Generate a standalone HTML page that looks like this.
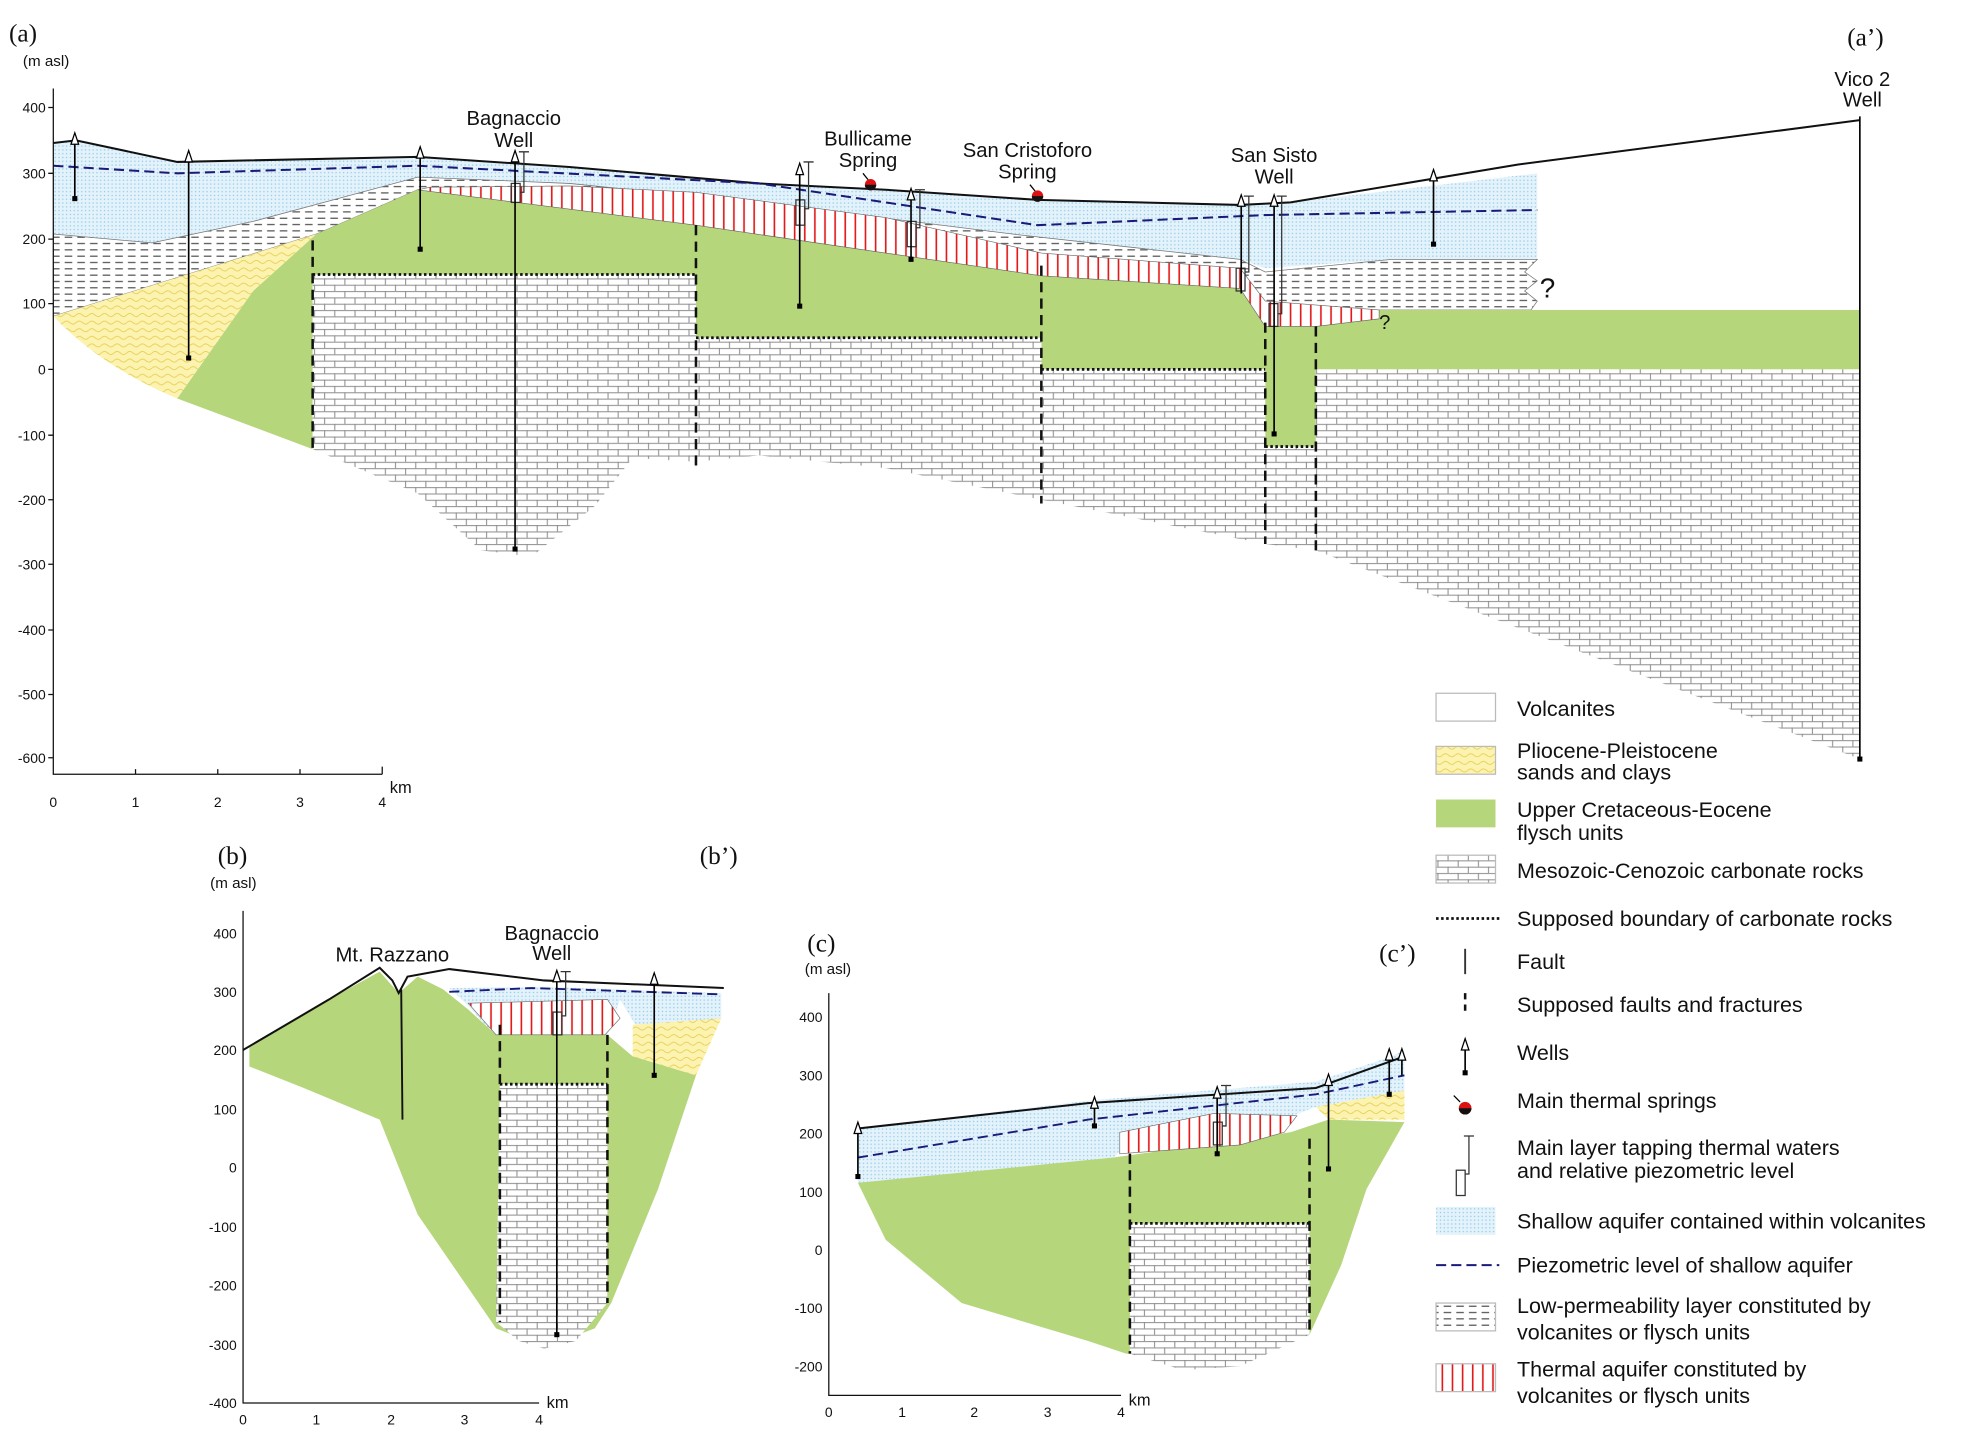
<!DOCTYPE html>
<html><head><meta charset="utf-8">
<style>
html,body{margin:0;padding:0;background:#fff;}
svg{display:block;}
text{font-family:"Liberation Sans",sans-serif;fill:#111;}
.ser{font-family:"Liberation Serif",serif;}
.ax{font-size:11px;}
</style></head>
<body>
<svg width="1984" height="1446" viewBox="0 0 1568 1143" xmlns="http://www.w3.org/2000/svg">
<defs>
<pattern id="brick" width="16" height="10" patternUnits="userSpaceOnUse">
<rect width="16" height="10" fill="#fff"/>
<path d="M0 0.5H16M0 5.5H16M0.5 0V5M8.5 5V10" stroke="#8a8a8a" stroke-width="0.8" fill="none"/>
</pattern>
<pattern id="dash" width="10" height="5" patternUnits="userSpaceOnUse">
<rect width="10" height="5" fill="#fff"/>
<path d="M1 2.5H7" stroke="#444" stroke-width="0.9"/>
</pattern>
<pattern id="dots" width="3" height="3" patternUnits="userSpaceOnUse">
<rect width="3" height="3" fill="#e4f3fb"/>
<rect x="1" y="1" width="1" height="1" fill="#8fc9e6"/>
</pattern>
<pattern id="red" width="8" height="10" patternUnits="userSpaceOnUse">
<rect width="8" height="10" fill="#fff"/>
<path d="M4 0V10" stroke="#e21a1a" stroke-width="1.3"/>
</pattern>
<pattern id="yel" width="10" height="6" patternUnits="userSpaceOnUse">
<rect width="10" height="6" fill="#fdf3b0"/>
<path d="M0 3 Q2.5 0.5 5 3 T10 3" stroke="#e8cf55" stroke-width="0.7" fill="none"/>
</pattern>
</defs>

<!-- ============ SECTION A ============ -->
<text x="7" y="33" class="ser" font-size="20">(a)</text>
<text x="1460" y="36" class="ser" font-size="20">(a’)</text>
<text x="18" y="52" font-size="12">(m  asl)</text>

<path d="M42,113 L60,111 L140,128 L330,124 L450,132 L600,145 L700,150 L820,158 L980,162 L1020,160 L1215,137 L1215,205 L1100,205 L1000,212 L980,205 L800,185 L600,160 L450,145 L330,140 L200,175 L120,192 L42,185Z" fill="url(#dots)"/>
<path d="M42,185 L120,192 L200,175 L330,140 L450,145 L600,160 L800,185 L980,205 L1000,215 L1100,205 L1215,205 L1205,215 L1215,222 L1205,230 L1215,238 L1210,245 L1090,245 L1040,245 L1000,240 L980,228 L823,218 L700,200 L550,178 L330,150 L250,185 L42,250Z" fill="url(#dash)" stroke="#777" stroke-width="0.6"/>
<path d="M42,250 L250,185 L200,230 L140,315 Q80,290 42,250Z" fill="url(#yel)"/>
<path d="M140,315 L200,230 L250,185 L330,150 L550,178 L700,200 L823,218 L980,228 L1000,255 L1040,258 L1090,252 L1090,245 L1470,245 L1470,292 L1040,292 L1040,353 L1000,353 L1000,292 L823,292 L823,267 L550,267 L550,217 L247,217 L247,355Z" fill="#b5d67a"/>
<path d="M340,148 L450,147 L550,152 L700,172 L823,200 L980,212 L1000,238 L1090,245 L1090,252 L1040,258 L1000,258 L980,228 L823,218 L700,200 L550,178 L330,150Z" fill="url(#red)" stroke="#666" stroke-width="0.5"/>
<path d="M247,217 L550,217 L550,365 L500,362 L470,400 L420,440 L380,435 L330,390 L247,355Z" fill="url(#brick)"/>
<path d="M550,267 L823,267 L823,395 L700,370 L600,360 L550,365Z" fill="url(#brick)"/>
<path d="M823,292 L1000,292 L1000,430 L823,395Z" fill="url(#brick)"/>
<path d="M1000,353 L1040,353 L1040,435 L1000,430Z" fill="url(#brick)"/>
<path d="M1040,292 L1470,292 L1470,600 L1040,435Z" fill="url(#brick)"/>
<g stroke="#111" stroke-width="2.2" stroke-dasharray="2,2" fill="none">
<path d="M247,217H550M550,267H823M823,292H1000M1000,353H1040"/>
</g>
<g stroke="#111" stroke-width="2" stroke-dasharray="8,5" fill="none">
<path d="M247,190V355M550,178V370M823,210V398M1000,255V430M1040,258V435"/>
</g>
<path d="M42,113 L60,111 L140,128 L330,124 L450,132 L600,145 L700,150 L820,158 L980,162 L1020,160 L1200,130 L1470,95" fill="none" stroke="#111" stroke-width="1.6"/>
<path d="M42,131 L140,137 L330,131 L600,145 L820,178 L1000,170 L1215,166" fill="none" stroke="#1a1a7a" stroke-width="1.6" stroke-dasharray="8,4"/>

<circle cx="688" cy="146" r="4.5" fill="#d11"/><path d="M683.5,146a4.5,4.5 0 0 0 9,0" fill="#111"/><path d="M682,137l4,5" stroke="#000"/>
<circle cx="820" cy="155" r="4.5" fill="#d11"/><path d="M815.5,155a4.5,4.5 0 0 0 9,0" fill="#111"/><path d="M814,146l4,5" stroke="#000"/>
<text x="1217" y="235" font-size="22">?</text><text x="1090" y="260" font-size="16">?</text>
<g font-size="16" text-anchor="middle">
<text x="406" y="99">Bagnaccio</text><text x="406" y="116">Well</text>
<text x="686" y="115">Bullicame</text><text x="686" y="132">Spring</text>
<text x="812" y="124">San Cristoforo</text><text x="812" y="141">Spring</text>
<text x="1007" y="128">San Sisto</text><text x="1007" y="145">Well</text>
<text x="1472" y="68">Vico 2</text><text x="1472" y="84">Well</text>
</g>
<path d="M42,70V612H302" stroke="#111" fill="none"/>
<g class="ax" text-anchor="end">
<text x="36" y="89">400</text><text x="36" y="141">300</text><text x="36" y="193">200</text><text x="36" y="244">100</text><text x="36" y="296">0</text><text x="36" y="348">-100</text><text x="36" y="399">-200</text><text x="36" y="450">-300</text><text x="36" y="502">-400</text><text x="36" y="553">-500</text><text x="36" y="603">-600</text>
</g>
<g stroke="#111"><path d="M42,85h-4M42,137h-4M42,189h-4M42,240h-4M42,292h-4M42,344h-4M42,395h-4M42,446h-4M42,498h-4M42,549h-4M42,599h-4M107,612v-4M172,612v-4M237,612v-4M302,612v-6"/></g>
<g class="ax" text-anchor="middle"><text x="42" y="638">0</text><text x="107" y="638">1</text><text x="172" y="638">2</text><text x="237" y="638">3</text><text x="302" y="638">4</text></g>
<text x="308" y="627" font-size="13">km</text>

<!-- ============ SECTION B ============ -->
<text x="172" y="683" class="ser" font-size="20">(b)</text>
<text x="553" y="683" class="ser" font-size="20">(b’)</text>
<text x="166" y="702" font-size="12">(m  asl)</text>
<path d="M355,781 L430,780 L570,785 L570,805 L520,840 L490,790 L480,818 L390,818 L370,795Z" fill="url(#dots)"/>
<path d="M500,810 L570,805 L550,850 L500,835Z" fill="url(#yel)"/>
<path d="M197,828 L260,790 L300,768 L315,785 L330,772 L350,782 L370,798 L392,818 L480,818 L500,835 L550,850 L520,940 L483,1030 L470,1050 L430,1065 L392,1050 L330,960 L300,885 L240,860 L197,843Z" fill="#b5d67a"/>
<path d="M370,793 L480,790 L490,805 L478,818 L392,818Z" fill="url(#red)" stroke="#666" stroke-width="0.5"/>
<path d="M395,857 L480,857 L480,1030 L455,1060 L430,1066 L410,1060 L392,1045Z" fill="url(#brick)"/>
<path d="M395,857H480" stroke="#111" stroke-width="2.2" stroke-dasharray="2,2"/>
<g stroke="#111" stroke-width="2" stroke-dasharray="8,5"><path d="M395,810V1045M480,818V1030"/></g>
<path d="M317,782 L318,885" stroke="#111" stroke-width="1.5"/>
<path d="M192,830 L260,790 L300,765 L310,775 L315,785 L322,772 L355,766 L430,775 L572,781" fill="none" stroke="#111" stroke-width="1.6"/>
<path d="M355,784 L420,781 L570,786" fill="none" stroke="#1a1a7a" stroke-width="1.5" stroke-dasharray="8,4"/>
<g font-size="16" text-anchor="middle"><text x="436" y="743">Bagnaccio</text><text x="436" y="759">Well</text><text x="310" y="760">Mt. Razzano</text></g>
<path d="M192,720V1109H426" stroke="#111" fill="none"/>
<g class="ax" text-anchor="end"><text x="187" y="742">400</text><text x="187" y="788">300</text><text x="187" y="834">200</text><text x="187" y="881">100</text><text x="187" y="927">0</text><text x="187" y="974">-100</text><text x="187" y="1020">-200</text><text x="187" y="1067">-300</text><text x="187" y="1113">-400</text></g>
<g class="ax" text-anchor="middle"><text x="192" y="1126">0</text><text x="250" y="1126">1</text><text x="309" y="1126">2</text><text x="367" y="1126">3</text><text x="426" y="1126">4</text></g>
<text x="432" y="1113" font-size="13">km</text>

<!-- ============ SECTION C ============ -->
<text x="638" y="752" class="ser" font-size="20">(c)</text>
<text x="1090" y="760" class="ser" font-size="20">(c’)</text>
<text x="636" y="770" font-size="12">(m  asl)</text>
<path d="M678,892 L860,870 L1040,855 L1100,835 L1110,830 L1110,865 L1040,875 L1000,890 L900,895 L880,915 L700,935 L678,935Z" fill="url(#dots)"/>
<path d="M1040,875 L1110,862 L1110,885 L1050,885Z" fill="url(#yel)"/>
<path d="M678,935 L880,915 L1020,895 L1050,885 L1110,887 L1080,940 L1060,1000 L1035,1055 L980,1075 L890,1070 L860,1060 L760,1030 L700,980Z" fill="#b5d67a"/>
<path d="M885,895 L960,880 L1025,882 L1015,895 L980,905 L885,912Z" fill="url(#red)" stroke="#666" stroke-width="0.5"/>
<path d="M893,967 L1035,967 L1035,1055 L980,1080 L935,1083 L893,1070Z" fill="url(#brick)"/>
<path d="M893,967H1035" stroke="#111" stroke-width="2.2" stroke-dasharray="2,2"/>
<g stroke="#111" stroke-width="2" stroke-dasharray="8,5"><path d="M893,912V1070M1035,900V1055"/></g>
<path d="M678,892 L860,872 L1040,860 L1110,835" fill="none" stroke="#111" stroke-width="1.6"/>
<path d="M678,915 L860,885 L1040,865 L1110,850" fill="none" stroke="#1a1a7a" stroke-width="1.5" stroke-dasharray="8,4"/>
<path d="M655,785V1103H886" stroke="#111" fill="none"/>
<g class="ax" text-anchor="end"><text x="650" y="808">400</text><text x="650" y="854">300</text><text x="650" y="900">200</text><text x="650" y="946">100</text><text x="650" y="992">0</text><text x="650" y="1038">-100</text><text x="650" y="1084">-200</text></g>
<g class="ax" text-anchor="middle"><text x="655" y="1120">0</text><text x="713" y="1120">1</text><text x="770" y="1120">2</text><text x="828" y="1120">3</text><text x="886" y="1120">4</text></g>
<text x="892" y="1111" font-size="13">km</text>

<!-- ============ LEGEND ============ -->
<g font-size="17">
<rect x="1135" y="548" width="47" height="22" fill="#fff" stroke="#bbb"/><text x="1199" y="566">Volcanites</text>
<rect x="1135" y="590" width="47" height="22" fill="url(#yel)" stroke="#bbb"/><text x="1199" y="599">Pliocene-Pleistocene</text><text x="1199" y="616">sands and clays</text>
<rect x="1135" y="632" width="47" height="22" fill="#b5d67a"/><text x="1199" y="646">Upper Cretaceous-Eocene</text><text x="1199" y="664">flysch units</text>
<rect x="1135" y="676" width="47" height="22" fill="url(#brick)" stroke="#bbb"/><text x="1199" y="694">Mesozoic-Cenozoic carbonate rocks</text>
<path d="M1135,726H1185" stroke="#111" stroke-width="2.2" stroke-dasharray="2,2"/><text x="1199" y="732">Supposed boundary of carbonate rocks</text>
<path d="M1158,750V770" stroke="#333" stroke-width="1.5"/><text x="1199" y="766">Fault</text>
<path d="M1158,785V803" stroke="#111" stroke-width="2" stroke-dasharray="5,4"/><text x="1199" y="800">Supposed faults and fractures</text>
<text x="1199" y="838">Wells</text>
<circle cx="1158" cy="876" r="5" fill="#d11"/><path d="M1153,876a5,5 0 0 0 10,0" fill="#111"/><path d="M1149,866l5,5" stroke="#000"/><text x="1199" y="876">Main thermal springs</text>
<text x="1199" y="913">Main layer tapping thermal waters</text><text x="1199" y="931">and relative piezometric level</text>
<rect x="1135" y="954" width="47" height="22" fill="url(#dots)"/><text x="1199" y="971">Shallow aquifer contained within volcanites</text>
<path d="M1135,1000H1185" stroke="#1a1a7a" stroke-width="1.6" stroke-dasharray="8,4"/><text x="1199" y="1006">Piezometric level of shallow aquifer</text>
<rect x="1135" y="1030" width="47" height="22" fill="url(#dash)" stroke="#bbb"/><text x="1199" y="1038">Low-permeability layer constituted by</text><text x="1199" y="1059">volcanites or flysch units</text>
<rect x="1135" y="1078" width="47" height="22" fill="url(#red)" stroke="#bbb"/><text x="1199" y="1088">Thermal aquifer constituted by</text><text x="1199" y="1109">volcanites or flysch units</text>
</g>

<!-- tapping symbols -->
<g fill="none" stroke="#333" stroke-width="1">
<rect x="404" y="145" width="7" height="15"/><path d="M411,152H414V120M410,120H418"/>
<rect x="629" y="158" width="7" height="20"/><path d="M636,165H639V128M635,128H643"/>
<rect x="717" y="175" width="7" height="20"/><path d="M724,180H727V150M723,150H731"/>
<rect x="977" y="212" width="7" height="18"/><path d="M984,215H987V155M983,155H991"/>
<rect x="1003" y="240" width="7" height="18"/><path d="M1010,248H1013V155M1009,155H1017"/>
<rect x="437" y="800" width="7" height="18"/><path d="M444,803H447V768M443,768H451"/>
<rect x="959" y="887" width="7" height="18"/><path d="M966,890H969V858M965,858H973"/>
<rect x="1151" y="925" width="7" height="20"/><path d="M1158,928H1161V898M1157,898H1165"/>
</g>

<!-- wells -->
<g stroke="#000" stroke-width="1.3">
<path d="M59,106V157M149,120V283M332,117V197M407,120V434M632,130V242M720,150V205M981,155V232M1007,155V343M1133,135V193M1470,92V600"/>
<path d="M440,768V1055M517,770V850"/>
<path d="M678,888V930M865,868V890M962,860V912M1050,850V925M1098,830V865M1108,830V850"/>
<path d="M1158,822V848"/>
</g>
<g fill="#fff" stroke="#000" stroke-width="1">
<path d="M56,114L59,105L62,114Z"/><path d="M146,128L149,119L152,128Z"/><path d="M329,125L332,116L335,125Z"/><path d="M404,128L407,119L410,128Z"/><path d="M629,138L632,129L635,138Z"/><path d="M717,158L720,149L723,158Z"/><path d="M978,163L981,154L984,163Z"/><path d="M1004,163L1007,154L1010,163Z"/><path d="M1130,143L1133,134L1136,143Z"/>
<path d="M437,776L440,767L443,776Z"/><path d="M514,778L517,769L520,778Z"/>
<path d="M675,896L678,887L681,896Z"/><path d="M862,876L865,867L868,876Z"/><path d="M959,868L962,859L965,868Z"/><path d="M1047,858L1050,849L1053,858Z"/><path d="M1095,838L1098,829L1101,838Z"/><path d="M1105,838L1108,829L1111,838Z"/>
<path d="M1155,830L1158,821L1161,830Z"/>
</g>
<g fill="#000">
<rect x="57" y="155" width="4" height="4"/><rect x="147" y="281" width="4" height="4"/><rect x="330" y="195" width="4" height="4"/><rect x="405" y="432" width="4" height="4"/><rect x="630" y="240" width="4" height="4"/><rect x="718" y="203" width="4" height="4"/><rect x="1005" y="341" width="4" height="4"/><rect x="1131" y="191" width="4" height="4"/><rect x="1468" y="598" width="4" height="4"/>
<rect x="438" y="1053" width="4" height="4"/><rect x="515" y="848" width="4" height="4"/>
<rect x="676" y="928" width="4" height="4"/><rect x="863" y="888" width="4" height="4"/><rect x="960" y="910" width="4" height="4"/><rect x="1048" y="922" width="4" height="4"/><rect x="1096" y="863" width="4" height="4"/>
<rect x="1156" y="846" width="4" height="4"/>
</g>
</svg>
</body></html>
